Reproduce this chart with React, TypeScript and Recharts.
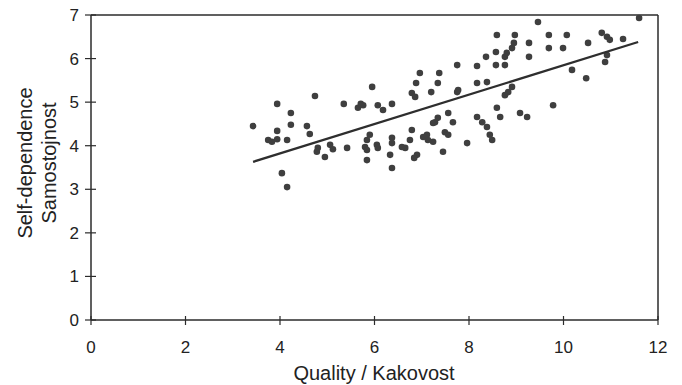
import React from 'react';
import { ScatterChart, Scatter, XAxis, YAxis, ReferenceLine } from 'recharts';

// quality (x) and self-dependence (y)
const qualityValues = [
  3.43, 3.94, 4.23, 4.74, 5.35, 5.65, 5.71, 4.23, 3.94, 4.57,
  4.63, 3.75, 3.83, 3.94, 4.15, 4.8, 4.78, 5.06, 5.12, 4.95,
  5.42, 4.04, 4.15, 5.95, 6.07, 6.18, 6.37, 5.76, 5.8, 5.84,
  5.9, 5.84, 5.84, 6.05, 6.07, 6.37, 6.37, 6.33, 6.37, 6.65,
  6.79, 6.9, 6.84, 7.03, 7.13, 7.24, 7.28, 7.34, 7.45, 7.49,
  7.56, 7.66, 6.79, 6.86, 6.88, 6.96, 7.2, 7.34, 7.37, 7.75,
  7.75, 8.17, 8.17, 7.96, 8.17, 8.28, 8.38, 8.44, 8.49, 8.59,
  8.66, 9.08, 9.23, 9.78, 8.76, 8.83, 8.91, 8.38, 8.57, 8.76,
  8.36, 8.57, 8.8, 8.76, 8.91, 8.95, 8.59, 8.97, 9.27, 9.27,
  9.46, 9.69, 10.07, 9.69, 9.99, 10.18, 10.48, 10.52, 10.81, 10.92,
  10.98, 11.26, 10.92, 10.88, 11.6, 7.77, 7.11, 6.58, 6.75, 7.24,
  7.56,
];
const selfDependenceValues = [
  4.45, 4.96, 4.75, 5.14, 4.96, 4.87, 4.96, 4.48, 4.34, 4.45,
  4.27, 4.13, 4.09, 4.15, 4.13, 3.95, 3.86, 4.02, 3.92, 3.74,
  3.95, 3.37, 3.05, 5.35, 4.93, 4.82, 4.96, 4.93, 3.97, 4.13,
  4.25, 3.9, 3.67, 4.02, 3.95, 4.18, 4.06, 3.79, 3.49, 3.95,
  4.36, 3.79, 3.72, 4.2, 4.13, 4.09, 4.54, 4.64, 3.86, 4.31,
  4.75, 4.54, 5.21, 5.12, 5.44, 5.67, 5.23, 5.44, 5.67, 5.85,
  5.23, 5.44, 5.83, 4.06, 4.66, 4.54, 4.43, 4.25, 4.13, 4.87,
  4.66, 4.75, 4.66, 4.93, 5.16, 5.23, 5.35, 5.46, 5.85, 5.85,
  6.04, 6.15, 6.13, 6.04, 6.24, 6.36, 6.54, 6.54, 6.36, 6.04,
  6.84, 6.54, 6.54, 6.24, 6.24, 5.74, 5.55, 6.36, 6.59, 6.5,
  6.43, 6.45, 6.08, 5.92, 6.93, 5.28, 4.25, 3.97, 4.13, 4.52,
  4.25,
];

// fitted line end points
const trendX = [3.43, 11.58];
const trendY = [3.63, 6.38];

const xTicks = [0, 2, 4, 6, 8, 10, 12];
const yTicks = [0, 1, 2, 3, 4, 5, 6, 7];

const points = qualityValues.map((x, i) => ({ x, y: selfDependenceValues[i] }));
const trend = trendX.map((x, i) => ({ x, y: trendY[i] }));

const AXIS = '#2b2b2b';
const FONT = '"Liberation Sans", Arial, sans-serif';

const XTick = ({ x, y, payload }: any) => (
  <g>
    <line x1={x} x2={x} y1={y - 4} y2={y + 5} stroke={AXIS} strokeWidth={1.2} />
    <text x={x} y={y + 33} textAnchor="middle" fontSize={17} fill="#222" fontFamily={FONT}>
      {payload.value}
    </text>
  </g>
);

const YTick = ({ x, y, payload }: any) => (
  <g>
    <line x1={x - 6} x2={x + 5} y1={y} y2={y} stroke={AXIS} strokeWidth={1.2} />
    <text x={x - 12} y={y + 6} textAnchor="end" fontSize={17} fill="#222" fontFamily={FONT}>
      {payload.value}
    </text>
  </g>
);

const Dot = ({ cx, cy }: any) => <circle cx={cx} cy={cy} r={3.3} fill="#3f3f3f" />;

export default function App() {
  return (
    <div style={{ position: 'absolute', left: 0, top: 0, background: '#fff' }}>
      <ScatterChart width={682} height={385} margin={{ top: 15, right: 24, bottom: 20, left: 20 }}>
        <XAxis
          type="number"
          dataKey="x"
          domain={[0, 12]}
          ticks={xTicks}
          tick={<XTick />}
          tickLine={false}
          tickSize={0}
          tickMargin={0}
          height={45}
          stroke={AXIS}
          strokeWidth={1.5}
          label={{
            content: () => (
              <text x={374} y={380} textAnchor="middle" fontSize={20} fill="#222" fontFamily={FONT}>
                Quality / Kakovost
              </text>
            ),
          }}
        />
        <YAxis
          type="number"
          dataKey="y"
          domain={[0, 7]}
          ticks={yTicks}
          tick={<YTick />}
          tickLine={false}
          tickSize={0}
          tickMargin={0}
          width={71}
          stroke={AXIS}
          strokeWidth={1.5}
          label={{
            content: () => (
              <text
                transform="translate(0,163) rotate(-90)"
                textAnchor="middle"
                fontSize={20}
                fill="#222"
                fontFamily={FONT}
              >
                <tspan x={0} y={32}>Self-dependence</tspan>
                <tspan x={0} y={56}>Samostojnost</tspan>
              </text>
            ),
          }}
        />
        <ReferenceLine y={7} stroke={AXIS} strokeWidth={1.5} />
        <ReferenceLine x={12} stroke={AXIS} strokeWidth={1.5} />
        <Scatter data={points} shape={<Dot />} isAnimationActive={false} />
        <Scatter
          data={trend}
          line={{ stroke: '#2e2e2e', strokeWidth: 2.3 }}
          shape={() => null}
          isAnimationActive={false}
        />
      </ScatterChart>
    </div>
  );
}
